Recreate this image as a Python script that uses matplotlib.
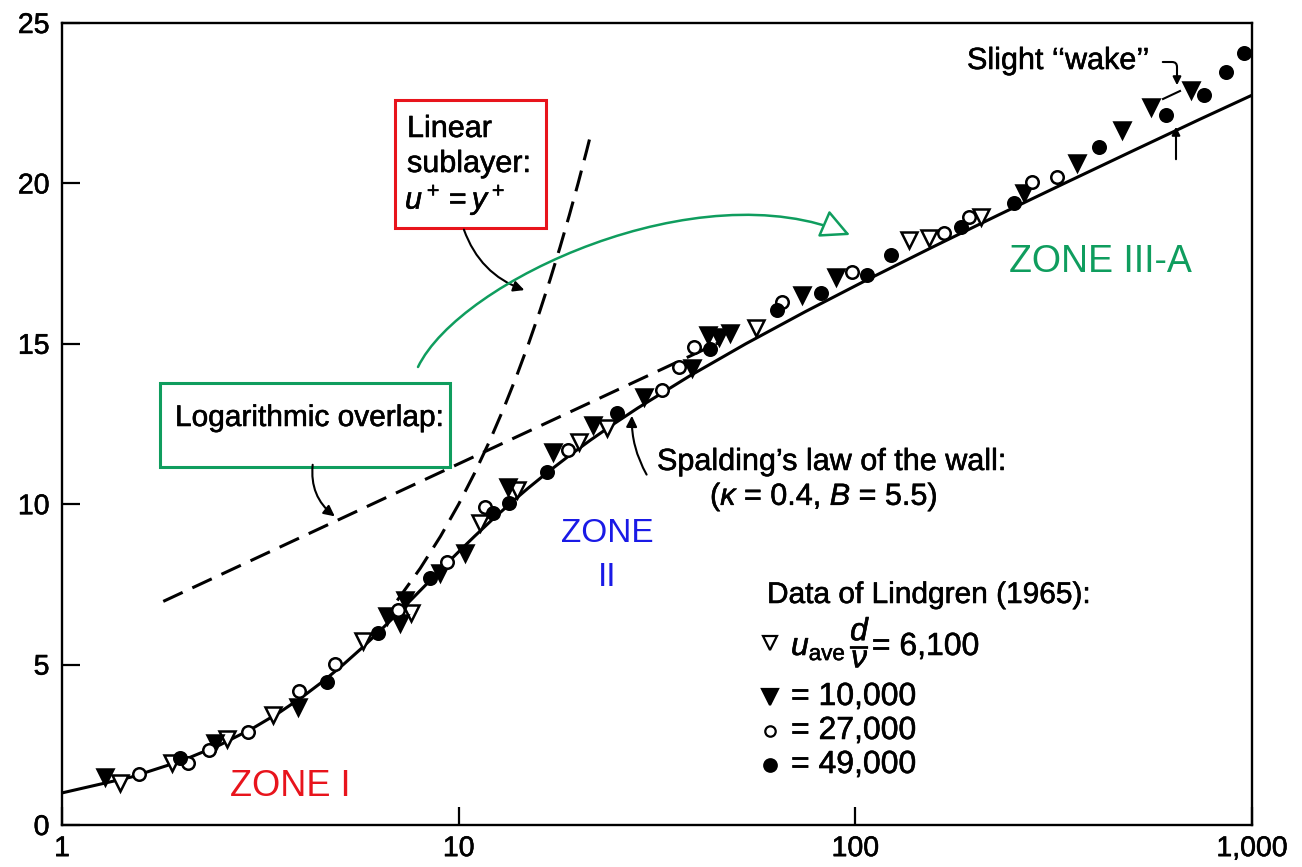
import matplotlib
matplotlib.use('Agg')
import matplotlib.pyplot as plt
import matplotlib.patheffects as pe
from matplotlib.patches import Rectangle, FancyArrowPatch
from matplotlib.lines import Line2D
from matplotlib.path import Path
from matplotlib.ticker import NullLocator

plt.rcParams['font.family'] = ['Liberation Sans', 'DejaVu Sans']
plt.rcParams['mathtext.fontset'] = 'custom'
plt.rcParams['mathtext.rm'] = 'Liberation Sans'
plt.rcParams['mathtext.it'] = 'Liberation Sans:italic'

# Spalding's law of the wall (kappa = 0.4, B = 5.5), tabulated as y+ vs u+
spald_y = [1.0, 1.5007, 2.0022, 2.5057, 3.0124, 3.5241, 4.0433, 4.5729, 5.117,
           5.6806, 6.270, 6.8938, 7.561, 8.2851, 9.080, 9.966, 10.966, 12.108,
           13.427, 14.967, 16.781, 18.933, 21.502, 24.586, 28.303, 38.252,
           52.94, 74.75, 107.25, 155.73, 228.14, 336.29, 497.84, 739.11, 1000]
spald_u = [1, 1.5, 2, 2.5, 3, 3.5, 4, 4.5, 5, 5.5, 6, 6.5, 7, 7.5, 8, 8.5, 9,
           9.5, 10, 10.5, 11, 11.5, 12, 12.5, 13, 14, 15, 16, 17, 18, 19, 20,
           21, 22, 22.75]

# linear sublayer u+ = y+
lin_y = [7, 8, 9, 10, 11, 12, 13, 14, 15, 16, 17, 18, 19, 20, 21, 21.5]

# logarithmic overlap (straight on log axis)
log_y = [1.8, 45]
log_u = [6.97, 15.02]

# Lindgren (1965) data
open_tri_y = [1.40, 1.89, 2.60, 3.40, 5.73, 7.6, 11.29, 14.0, 20.05, 23.6,
              56.3, 136.8, 153.6, 207.6]
open_tri_u = [1.31, 1.93, 2.68, 3.43, 5.74, 6.61, 9.41, 10.44, 11.94, 12.38,
              15.49, 18.24, 18.30, 18.95]

fill_tri_y = [1.28, 2.43, 3.93, 6.6, 7.1, 7.31, 8.96, 10.36, 13.28, 17.25,
              21.75, 29.4, 38.8, 42.4, 45.4, 48.2, 73.5, 89.6, 266.6, 362.5,
              470.4, 556.7, 702]
fill_tri_u = [1.50, 2.56, 3.68, 6.5, 6.30, 7.01, 7.86, 8.48, 10.54, 11.63,
              12.47, 13.34, 14.25, 15.27, 15.21, 15.34, 16.52, 17.08, 19.70,
              20.64, 21.66, 22.38, 22.91]

open_circ_y = [1.56, 2.08, 2.35, 2.94, 3.95, 4.87, 7.05, 9.33, 11.63, 18.82,
               32.5, 36.0, 39.3, 65.5, 98.2, 167.5, 193.7, 279.1, 322.8]
open_circ_u = [1.59, 1.93, 2.34, 2.90, 4.18, 5.02, 6.70, 8.20, 9.91, 11.69,
               13.56, 14.28, 14.90, 16.30, 17.24, 18.45, 18.95, 20.04, 20.20]

fill_circ_y = [1.98, 4.65, 6.25, 8.45, 12.18, 13.43, 16.66, 25.0, 43.0, 63.6,
               82.1, 107.2, 123.2, 184.9, 251.5, 411.7, 607, 757, 859, 955]
fill_circ_u = [2.09, 4.46, 5.99, 7.70, 9.73, 10.04, 11.00, 12.84, 14.85, 16.05,
               16.58, 17.14, 17.77, 18.64, 19.40, 21.13, 22.13, 22.76, 23.47,
               24.07]

xtick_vals = [1, 10, 100, 1000]
xtick_labels = ['1', '10', '100', '1,000']
ytick_vals = [0, 5, 10, 15, 20, 25]

RED = '#e8141c'
GREEN = '#0f9d5e'
BLUE = '#1a1ae6'

W, H = 1302, 867
fig = plt.figure(figsize=(W / 100, H / 100), dpi=100)
ax = fig.add_axes([62 / W, 1 - 825 / H, 1190 / W, 802 / H])

thick = [pe.withStroke(linewidth=0.4, foreground='k')]


def fp(x, y):
    # image pixel (from top-left) -> figure fraction
    return (x / W, 1 - y / H)


def txt(x, y, s, size=22, **kw):
    kw.setdefault('va', 'center')
    return fig.text(*fp(x, y), s, fontsize=size, path_effects=thick, **kw)


# theory curves
ax.plot(spald_y, spald_u, color='k', lw=2.2, zorder=2)
ax.plot(lin_y, lin_y, color='k', lw=2.2, dashes=(7, 3.5), zorder=2)
ax.plot(log_y, log_u, color='k', lw=2.2, dashes=(7, 3.5), zorder=2)

# data
mk = dict(ls='none', mec='k', mew=1.8, zorder=3, clip_on=False)
ax.plot(open_tri_y, open_tri_u, marker='v', ms=11, mfc='white', **mk)
ax.plot(fill_tri_y, fill_tri_u, marker='v', ms=11, mfc='k', **mk)
ax.plot(open_circ_y, open_circ_u, marker='o', ms=9, mfc='white', **mk)
ax.plot(fill_circ_y, fill_circ_u, marker='o', ms=9, mfc='k', **mk)

ax.set_xscale('log')
ax.set_xlim(1, 1000)
ax.set_ylim(0, 25)
ax.set_xticks(xtick_vals)
ax.set_xticklabels(xtick_labels)
ax.xaxis.set_minor_locator(NullLocator())
ax.set_yticks(ytick_vals)
ax.tick_params(direction='in', length=13, width=1.6, labelsize=20.5)
ax.tick_params(axis='x', pad=8)
ax.tick_params(axis='y', pad=9)
for lab in ax.get_xticklabels() + ax.get_yticklabels():
    lab.set_path_effects(thick)
for s in ax.spines.values():
    s.set_linewidth(1.7)


# annotation boxes
def box(x0, y0, x1, y1, color):
    fig.add_artist(Rectangle(fp(x0, y1), (x1 - x0) / W, (y1 - y0) / H,
                             transform=fig.transFigure, fill=False,
                             ec=color, lw=2.2))


def arrow(p0, p1, rad, **kw):
    st = dict(arrowstyle='-|>', mutation_scale=16, lw=1.5, color='k',
              connectionstyle='arc3,rad=%s' % rad)
    st.update(kw)
    fig.add_artist(FancyArrowPatch(fp(*p0), fp(*p1), transform=fig.transFigure, **st))


txt(407, 129, 'Linear', 22)
txt(407, 164, 'sublayer:', 22)
txt(405, 200, '$u^+ = y^+$', 22)
box(395, 100, 546, 228, RED)
arrow((463, 227), (527, 291), 0.25)

txt(175, 418, 'Logarithmic overlap:', 21.5)
box(160, 383, 450, 467, GREEN)
arrow((313, 462), (337, 518), 0.3)

txt(657, 462, 'Spalding\u2019s law of the wall:', 22)
txt(710, 497, r'($\kappa$ = 0.4, $B$ = 5.5)', 22)
arrow((648, 477), (632, 413), -0.15)

txt(967, 61, 'Slight \u2018\u2018wake\u2019\u2019', 22)
arrow((1160, 62), (1177, 88), 0, connectionstyle='angle,angleA=0,angleB=90,rad=5',
      mutation_scale=12)
arrow((1176, 162), (1176, 124), 0, mutation_scale=12)
fig.add_artist(Line2D([1163 / W, 1180 / W], [1 - 99 / H, 1 - 91 / H],
                      transform=fig.transFigure, color='k', lw=1.5))

# legend block
txt(767, 595, 'Data of Lindgren (1965):', 21.5)
leg = [('v', 'white', 643, r'$u_{\rm ave}\,\dfrac{d}{\nu}$= 6,100', 9.5),
       ('v', 'k', 697, '= 10,000', 11),
       ('o', 'white', 731, '= 27,000', 7.5),
       ('o', 'k', 765, '= 49,000', 9)]
for m, fc, yy, lab, ms in leg:
    fig.add_artist(Line2D([770 / W], [1 - yy / H], transform=fig.transFigure,
                          marker=m, ms=ms, mfc=fc, mec='k', mew=1.6, ls='none'))
    txt(791, yy, lab, 23)

# green sweeping arrow
verts = [fp(418, 367), fp(460, 280), fp(700, 170), fp(850, 235)]
gpath = Path(verts, [Path.MOVETO, Path.CURVE4, Path.CURVE4, Path.CURVE4])
fig.add_artist(FancyArrowPatch(path=gpath, transform=fig.transFigure,
                               arrowstyle='-|>,head_length=0.9,head_width=0.45',
                               mutation_scale=20, lw=1.8, ec=GREEN, fc='white'))

# zone labels
fig.text(*fp(290, 787), 'ZONE I', fontsize=26, color=RED, ha='center', va='center')
fig.text(*fp(607, 533), 'ZONE', fontsize=24, color=BLUE, ha='center', va='center')
fig.text(*fp(607, 577), 'II', fontsize=24, color=BLUE, ha='center', va='center')
fig.text(*fp(1100, 262), 'ZONE III-A', fontsize=27, color=GREEN, ha='center',
         va='center')

fig.savefig('out.png', dpi=100)
